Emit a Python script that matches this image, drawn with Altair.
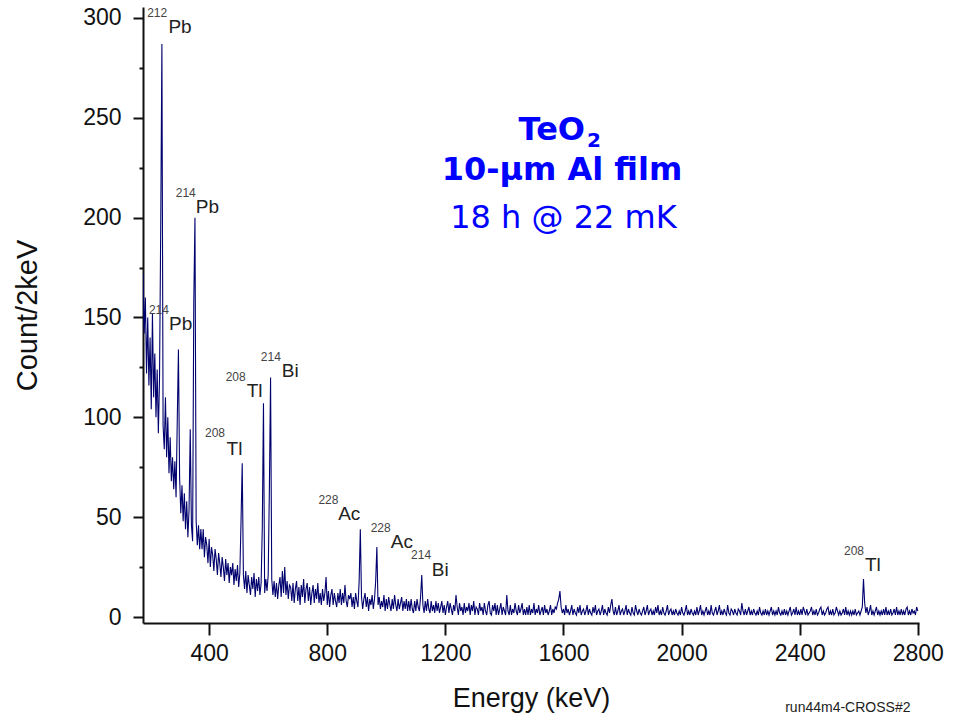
import altair as alt
import pandas as pd

# ---- spectrum: counts in 4 keV steps starting at 176 keV (one row per 100 keV) ----
E_START = 176
E_STEP = 4
counts_rows = [
    [172, 142, 160, 122, 150, 116, 140, 104, 152, 110, 132, 100, 124, 92, 120, 195, 287, 96, 84, 110, 80, 100, 72, 90, 68],
    [80, 64, 78, 60, 98, 134, 70, 52, 66, 48, 62, 44, 58, 40, 54, 94, 46, 38, 158, 200, 48, 36, 46, 34, 44],
    [34, 44, 30, 40, 36, 27, 39, 25, 35, 31, 23, 34, 29, 21, 32, 27, 20, 30, 25, 18, 29, 21, 27, 17, 25],
    [21, 27, 16, 24, 18, 26, 15, 22, 48, 77, 21, 14, 23, 12, 21, 16, 11, 20, 14, 22, 10, 19, 13, 20, 11],
    [17, 45, 107, 12, 19, 13, 21, 64, 120, 19, 11, 18, 10, 17, 9, 16, 20, 10, 23, 12, 25, 11, 18, 9, 16],
    [15, 8, 17, 7, 14, 18, 8, 15, 6, 16, 10, 19, 7, 14, 17, 8, 15, 6, 12, 16, 7, 14, 9, 17, 7],
    [12, 6, 14, 8, 12, 20, 6, 13, 5, 11, 14, 6, 12, 8, 5, 12, 7, 14, 6, 12, 7, 16, 8, 5, 11],
    [9, 12, 5, 10, 4, 12, 8, 5, 18, 44, 10, 4, 9, 12, 5, 10, 3, 9, 6, 11, 4, 9, 18, 35, 6],
    [10, 4, 8, 5, 11, 3, 9, 4, 10, 6, 3, 9, 4, 11, 6, 3, 9, 4, 7, 10, 3, 8, 4, 9, 3],
    [8, 3, 9, 4, 2, 8, 3, 9, 5, 3, 10, 21, 6, 2, 8, 3, 9, 4, 2, 8, 3, 6, 2, 8, 3],
    [7, 2, 5, 8, 2, 6, 1, 5, 8, 2, 7, 4, 1, 6, 3, 11, 5, 1, 7, 3, 5, 1, 7, 2, 5],
    [3, 7, 1, 6, 3, 8, 1, 5, 4, 1, 7, 3, 5, 1, 7, 3, 1, 6, 8, 2, 1, 6, 3, 7, 1],
    [6, 1, 4, 7, 1, 5, 3, 1, 11, 3, 1, 6, 1, 4, 2, 7, 3, 1, 6, 2, 4, 7, 1, 4, 1],
    [5, 1, 6, 1, 4, 2, 7, 1, 4, 2, 6, 1, 3, 5, 1, 6, 2, 4, 1, 3, 6, 1, 4, 2, 5],
    [4, 7, 9, 13, 5, 2, 4, 1, 6, 2, 4, 1, 3, 6, 1, 4, 2, 1, 5, 2, 6, 1, 3, 4, 1],
    [3, 6, 1, 4, 2, 1, 5, 2, 6, 1, 3, 4, 1, 3, 6, 1, 4, 2, 1, 5, 2, 6, 9, 3, 1],
    [5, 1, 3, 6, 1, 3, 4, 1, 3, 6, 1, 4, 2, 1, 5, 2, 1, 6, 3, 1, 4, 2, 1, 3, 5],
    [1, 3, 6, 1, 3, 4, 1, 3, 1, 5, 2, 6, 1, 3, 1, 5, 2, 1, 3, 6, 1, 3, 4, 1, 3],
    [1, 4, 2, 1, 3, 1, 5, 2, 1, 3, 6, 1, 3, 1, 4, 2, 1, 3, 1, 5, 1, 3, 6, 1, 3],
    [1, 3, 5, 1, 3, 1, 6, 2, 1, 3, 5, 1, 3, 6, 1, 3, 1, 4, 2, 1, 6, 2, 1, 4, 3],
    [1, 4, 2, 1, 4, 3, 1, 7, 3, 1, 4, 1, 3, 5, 1, 3, 1, 4, 2, 1, 3, 1, 5, 2, 1],
    [3, 1, 4, 1, 3, 1, 3, 5, 1, 3, 1, 3, 1, 5, 2, 1, 3, 1, 4, 1, 3, 1, 3, 5, 1],
    [2, 4, 1, 5, 1, 3, 1, 4, 1, 5, 3, 1, 4, 1, 2, 3, 5, 1, 3, 1, 4, 1, 2, 4, 5],
    [1, 3, 1, 2, 4, 5, 1, 3, 1, 4, 1, 2, 5, 3, 1, 3, 1, 2, 4, 1, 5, 1, 3, 1, 3],
    [1, 3, 1, 4, 1, 2, 3, 1, 3, 5, 19, 7, 2, 5, 1, 3, 6, 1, 3, 1, 3, 5, 1, 3, 1],
    [3, 1, 4, 1, 5, 1, 3, 1, 4, 1, 2, 4, 1, 5, 1, 3, 1, 4, 1, 3, 1, 4, 5, 1, 3],
    [1, 4, 2, 3, 1, 5, 3],
]

# ---- peak annotations (isotope mass number, element, positions in keV / counts) ----
iso_mass = ["212", "214", "214", "208", "208", "214", "228", "228", "214", "208"]
iso_mass_x = [190, 287, 196, 386, 456, 575, 770, 947, 1084, 2550]
iso_mass_y = [300.3, 210.5, 151.6, 90.0, 118.2, 128.2, 56.6, 42.4, 28.9, 31.1]
iso_elem = ["Pb", "Pb", "Pb", "Tl", "Tl", "Bi", "Ac", "Ac", "Bi", "Tl"]
iso_elem_x = [262, 355, 264, 459, 527, 646, 837, 1015, 1154, 2621]
iso_elem_y = [292.3, 202.5, 143.7, 81.1, 110.3, 120.4, 48.6, 34.4, 20.5, 23.1]

# ---- blue info block ----
info_bold = ["10-\u03bcm Al film"]
info_bold_x = [1595]
info_bold_y = [218.9]
info_plain = ["18 h @ 22 mK"]
info_plain_x = [1600]
info_plain_y = [194.7]
formula_main = ["TeO"]
formula_main_x = [1673]
formula_main_y = [238.9]
formula_sub = ["2"]
formula_sub_x = [1680]
formula_sub_y = [235.6]

footnote = ["run44m4-CROSS#2"]
footnote_x = [2563]
footnote_y = [-45.5]

X_DOMAIN = [176, 2804]
Y_DOMAIN = [-3, 305.5]
X_TICKS = [400, 800, 1200, 1600, 2000, 2400, 2800]
Y_TICKS = [0, 25, 50, 75, 100, 125, 150, 175, 200, 225, 250, 275, 300]

counts = [c for row in counts_rows for c in row]
spec = pd.DataFrame({
    "energy": [E_START + E_STEP * i for i in range(len(counts))],
    "count": counts,
})

FONT = "Liberation Sans"

xscale = alt.Scale(domain=X_DOMAIN, nice=False, zero=False)
yscale = alt.Scale(domain=Y_DOMAIN, nice=False, zero=False)

x_axis = alt.Axis(
    values=X_TICKS, format="d", title="Energy (keV)", grid=False,
    tickSize=12, tickWidth=2, tickColor="#111111",
    domainWidth=2, domainColor="#111111",
    labelFont=FONT, labelFontSize=23, labelColor="#111111", labelPadding=7,
    labelFlush=False, labelOverlap=False,
    titleFont=FONT, titleFontSize=27, titleFontWeight="normal", titleColor="#111111",
    titlePadding=20,
)
y_axis = alt.Axis(
    values=Y_TICKS, title="Count/2keV", grid=False,
    labelExpr="datum.value % 50 === 0 ? datum.label : ''",
    tickSize={"condition": {"test": "datum.value % 50 !== 0", "value": 4}, "value": 10},
    tickWidth=2, tickColor="#111111",
    domainWidth=2, domainColor="#111111",
    labelFont=FONT, labelFontSize=23, labelColor="#111111", labelPadding=12,
    labelFlush=False, labelOverlap=False,
    titleFont=FONT, titleFontSize=29, titleFontWeight="normal", titleColor="#111111",
    titlePadding=40,
)

line = alt.Chart(spec).mark_line(color="#00006e", strokeWidth=1.1, clip=True).encode(
    x=alt.X("energy:Q", scale=xscale, axis=x_axis),
    y=alt.Y("count:Q", scale=yscale, axis=y_axis),
)

mass_df = pd.DataFrame({"t": iso_mass, "x": iso_mass_x, "y": iso_mass_y})
elem_df = pd.DataFrame({"t": iso_elem, "x": iso_elem_x, "y": iso_elem_y})

mass_txt = alt.Chart(mass_df).mark_text(
    align="left", baseline="alphabetic", font=FONT, fontSize=12, color="#444444"
).encode(x=alt.X("x:Q", scale=xscale), y=alt.Y("y:Q", scale=yscale), text="t:N")

elem_txt = alt.Chart(elem_df).mark_text(
    align="left", baseline="alphabetic", font=FONT, fontSize=19, color="#222222"
).encode(x=alt.X("x:Q", scale=xscale), y=alt.Y("y:Q", scale=yscale), text="t:N")

BLUE = "#0000ff"
BFONT = "DejaVu Sans"
bold_txt = alt.Chart(pd.DataFrame({"t": info_bold, "x": info_bold_x, "y": info_bold_y})).mark_text(
    align="center", baseline="alphabetic", font=BFONT, fontSize=32, fontWeight="bold", color=BLUE
).encode(x=alt.X("x:Q", scale=xscale), y=alt.Y("y:Q", scale=yscale), text="t:N")

plain_txt = alt.Chart(pd.DataFrame({"t": info_plain, "x": info_plain_x, "y": info_plain_y})).mark_text(
    align="center", baseline="alphabetic", font=BFONT, fontSize=32, color=BLUE
).encode(x=alt.X("x:Q", scale=xscale), y=alt.Y("y:Q", scale=yscale), text="t:N")

formula_txt = alt.Chart(pd.DataFrame({"t": formula_main, "x": formula_main_x, "y": formula_main_y})).mark_text(
    align="right", baseline="alphabetic", font=BFONT, fontSize=32, fontWeight="bold", color=BLUE
).encode(x=alt.X("x:Q", scale=xscale), y=alt.Y("y:Q", scale=yscale), text="t:N")

sub_txt = alt.Chart(pd.DataFrame({"t": formula_sub, "x": formula_sub_x, "y": formula_sub_y})).mark_text(
    align="left", baseline="alphabetic", font=BFONT, fontSize=20, fontWeight="bold", color=BLUE
).encode(x=alt.X("x:Q", scale=xscale), y=alt.Y("y:Q", scale=yscale), text="t:N")

foot_txt = alt.Chart(pd.DataFrame({"t": footnote, "x": footnote_x, "y": footnote_y})).mark_text(
    align="center", baseline="middle", font=FONT, fontSize=14, color="#222222"
).encode(x=alt.X("x:Q", scale=xscale), y=alt.Y("y:Q", scale=yscale), text="t:N")

chart = alt.layer(
    line, mass_txt, elem_txt, bold_txt, plain_txt, formula_txt, sub_txt, foot_txt
).properties(
    width=776, height=616,
    autosize=alt.AutoSizeParams(type="none"),
    padding={"left": 143, "top": 7, "right": 35, "bottom": 95},
    background="white",
).configure_view(strokeWidth=0)

chart.save("out.html", embed_options={"renderer": "svg", "actions": False})
